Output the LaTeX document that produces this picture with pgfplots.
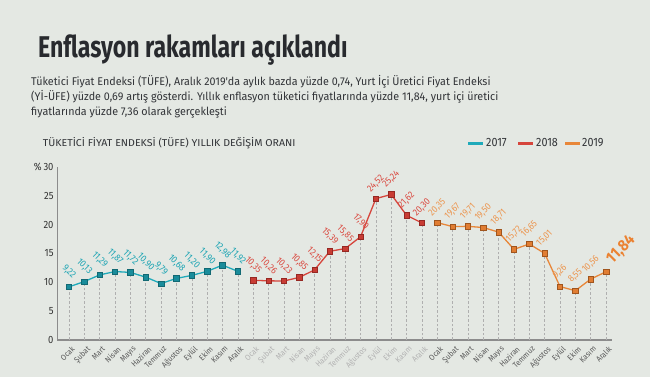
\documentclass[border=0pt]{standalone}
\usepackage{pgfplots}
\pgfplotsset{compat=1.18}
\usepackage{pgfplotstable}
\usepackage{fontspec}
\setmainfont{Fira Sans}[FakeStretch=0.9]
\newfontfamily\titlefont{Fira Sans}[FakeStretch=0.77]
\newfontfamily\subfont{Fira Sans}[FakeStretch=0.96]
\newfontfamily\ctfont{Fira Sans}[FakeStretch=1.06]
\pgfdeclarelayer{background}
\pgfsetlayers{background,main}

\definecolor{bg}{RGB}{228,232,227}
\definecolor{titlecol}{RGB}{40,42,46}
\definecolor{subcol}{RGB}{50,52,56}
\definecolor{c17}{RGB}{31,170,186}
\definecolor{c17m}{RGB}{25,140,155}
\definecolor{c17b}{RGB}{18,105,115}
\definecolor{c17t}{RGB}{30,165,180}
\definecolor{c18}{RGB}{214,69,60}
\definecolor{c18m}{RGB}{200,60,52}
\definecolor{c18b}{RGB}{150,40,35}
\definecolor{c18t}{RGB}{218,75,66}
\definecolor{c19}{RGB}{232,135,58}
\definecolor{c19m}{RGB}{225,125,50}
\definecolor{c19b}{RGB}{160,85,30}
\definecolor{c19t}{RGB}{236,150,80}
\definecolor{c19big}{RGB}{235,130,50}
\definecolor{axgray}{RGB}{140,140,140}
\definecolor{dashgray}{RGB}{175,175,175}
\definecolor{xdark}{RGB}{90,90,90}
\definecolor{xlight}{RGB}{178,178,178}
\definecolor{tickcol}{RGB}{50,50,50}

\newcommand{\dk}[1]{\textcolor{xdark}{#1}}
\newcommand{\lt}[1]{\textcolor{xlight}{#1}}

\pgfplotstableread{
x y rot
0 9.22 -45
1 10.13 -45
2 11.29 -45
3 11.87 -45
4 11.72 -45
5 10.90 -45
6 9.79 -45
7 10.68 -45
8 11.20 -45
9 11.90 -45
10 12.98 -45
11 11.92 -45
}\dA
\pgfplotstableread{
x y rot
12 10.35 -45
13 10.26 -45
14 10.23 -45
15 10.85 -45
16 12.15 -45
17 15.39 -45
18 15.85 -45
19 17.90 -45
20 24.52 45
21 25.24 45
22 21.62 45
23 20.30 45
}\dB
\pgfplotstableread{
x y rot
24 20.35 45
25 19.67 45
26 19.71 45
27 19.50 45
28 18.71 45
29 15.72 45
30 16.65 45
31 15.01 45
32 9.26 45
33 8.55 45
34 10.56 45
35 11.84 45
}\dC

\pgfplotsset{
  /pgf/number format/assume math mode=true,
  yearline/.style n args={3}{draw=#1, line width=1.3pt, mark=square*, mark size=2.7pt,
    mark options={fill=#2, draw=#3, line width=0.5pt, solid}},
  vlabels/.style={draw=none, mark=none,
    nodes near coords={\pgfmathprintnumber[fixed,fixed zerofill,precision=2,use comma]{\pgfplotspointmeta}},
    point meta=\thisrow{y},
    visualization depends on={\thisrow{rot}\as\rot},
    every node near coord/.style={anchor=center, yshift=15pt, rotate=\rot,
      font=\fontsize{9.5}{9.5}\selectfont, text=#1, inner sep=0pt}},
  combs/.style={ycomb, draw=dashgray, dash pattern=on 2.5pt off 2pt, line width=0.5pt, mark=none}
}

\begin{document}
\begin{tikzpicture}[x=1pt,y=1pt]
\begin{axis}[scale only axis,
  width=555pt, height=173pt,
  xmin=-0.78, xmax=35.39, ymin=0, ymax=30,
  axis x line*=bottom, axis y line*=left,
  x axis line style={draw=axgray, line width=1.5pt, -},
  y axis line style={draw=axgray, line width=0.8pt, -},
  major tick length=0pt,
  ytick={0,5,10,15,20,25,30},
  yticklabels={0,5,10,15,20,25,{\%\,30}},
  yticklabel style={font=\fontsize{10.5}{10.5}\selectfont, text=tickcol},
  xtick={0,...,35},
  xticklabels={\dk{Ocak},\dk{Şubat},\dk{Mart},\dk{Nisan},\dk{Mayıs},\dk{Haziran},\dk{Temmuz},\dk{Ağustos},\dk{Eylül},\dk{Ekim},\dk{Kasım},\dk{Aralık},
    \lt{Ocak},\lt{Şubat},\lt{Mart},\lt{Nisan},\lt{Mayıs},\lt{Haziran},\lt{Temmuz},\lt{Ağustos},\lt{Eylül},\lt{Ekim},\lt{Kasım},\lt{Aralık},
    \dk{Ocak},\dk{Şubat},\dk{Mart},\dk{Nisan},\dk{Mayıs},\dk{Haziran},\dk{Temmuz},\dk{Ağustos},\dk{Eylül},\dk{Ekim},\dk{Kasım},\dk{Aralık}},
  xticklabel style={xshift=2pt, yshift=-4pt, rotate=45, anchor=north east, font=\fontsize{8}{8}\selectfont, inner sep=1pt},
  clip=false]
\addplot[combs] table[x=x,y=y] {\dA};
\addplot[combs] table[x=x,y=y] {\dB};
\addplot[combs] table[x=x,y=y] {\dC};
\addplot[yearline={c17}{c17m}{c17b}] table[x=x,y=y] {\dA};
\addplot[yearline={c18}{c18m}{c18b}] table[x=x,y=y] {\dB};
\addplot[yearline={c19}{c19m}{c19b}] table[x=x,y=y] {\dC};
\addplot[vlabels=c17t] table[x=x,y=y] {\dA};
\addplot[vlabels=c18t] table[x=x,y=y] {\dB};
\addplot[vlabels=c19t, skip coords between index={11}{12}] table[x=x,y=y] {\dC};
\addplot[draw=none, mark=none,
  nodes near coords={\pgfmathprintnumber[fixed,fixed zerofill,precision=2,use comma]{\pgfplotspointmeta}},
  point meta=\thisrow{y},
  every node near coord/.style={anchor=center, xshift=15pt, yshift=22pt, rotate=45,
    font=\bfseries\fontsize{16}{16}\selectfont, text=c19big, inner sep=0pt},
  skip coords between index={0}{11}] table[x=x,y=y] {\dC};
\coordinate (O) at (axis cs:0,0);
\end{axis}
\begin{scope}[shift={(O)}, xshift=-69pt, yshift=-37pt]
\begin{pgfonlayer}{background}
\fill[bg] (0,0) rectangle (650,377);
\end{pgfonlayer}
\node[anchor=base west, inner sep=0, font=\titlefont\bfseries\fontsize{30}{30}\selectfont, text=titlecol] at (38,319) {Enflasyon rakamları açıklandı};
\node[anchor=base west, inner sep=0, font=\subfont\fontsize{11.2}{15}\selectfont, text=subcol] at (31,291) {Tüketici Fiyat Endeksi (TÜFE), Aralık 2019'da aylık bazda yüzde 0,74, Yurt İçi Üretici Fiyat Endeksi};
\node[anchor=base west, inner sep=0, font=\subfont\fontsize{11.2}{15}\selectfont, text=subcol] at (31,276) {(Yİ-ÜFE) yüzde 0,69 artış gösterdi. Yıllık enflasyon tüketici fiyatlarında yüzde 11,84, yurt içi üretici};
\node[anchor=base west, inner sep=0, font=\subfont\fontsize{11.2}{15}\selectfont, text=subcol] at (31,261) {fiyatlarında yüzde 7,36 olarak gerçekleşti};
\node[anchor=base west, inner sep=0, font=\ctfont\fontsize{10}{10}\selectfont, text=subcol] at (42.7,230.5) {TÜKETİCİ FİYAT ENDEKSİ (TÜFE) YILLIK DEĞİŞİM ORANI};
% legend
\draw[c17, line width=3pt] (468,233.5) -- (483,233.5);
\node[anchor=base west, inner sep=0, font=\fontsize{12}{12}\selectfont, text=subcol] at (486,230.3) {2017};
\draw[c18, line width=3pt] (518,233.5) -- (533,233.5);
\node[anchor=base west, inner sep=0, font=\fontsize{12}{12}\selectfont, text=subcol] at (536,230.3) {2018};
\draw[c19, line width=3pt] (565,233.5) -- (580,233.5);
\node[anchor=base west, inner sep=0, font=\fontsize{12}{12}\selectfont, text=subcol] at (582,230.3) {2019};
\pgfresetboundingbox
\useasboundingbox (0,0) rectangle (650,377);
\end{scope}
\end{tikzpicture}
\end{document}
